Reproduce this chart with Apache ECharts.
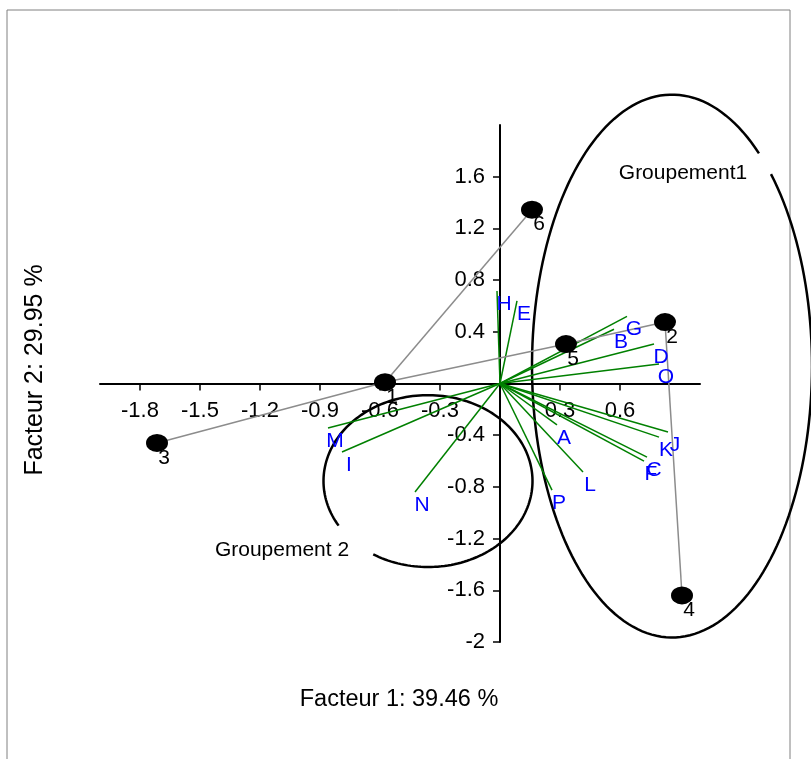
<!DOCTYPE html>
<html>
<head>
<meta charset="utf-8">
<script src="https://cdn.jsdelivr.net/npm/echarts@6/dist/echarts.min.js"></script>
<style>html,body{margin:0;padding:0;background:#fff}#c{width:811px;height:759px}</style>
</head>
<body>
<div id="c"></div>
<script>
// ---- data ----
const xTicks = [-1.8, -1.5, -1.2, -0.9, -0.6, -0.3, 0.3, 0.6];
const yTicks = [-2, -1.6, -1.2, -0.8, -0.4, 0.4, 0.8, 1.2, 1.6];
const xTitle = 'Facteur 1: 39.46 %';
const yTitle = 'Facteur 2: 29.95 %';

const varNames = ['H','E','G','B','D','O','J','K','C','F','A','L','P','M','I','N'];
const varX = [-0.015, 0.085, 0.635, 0.57, 0.77, 0.795, 0.84, 0.795, 0.735, 0.72, 0.285, 0.415, 0.26, -0.86, -0.79, -0.425];
const varY = [0.715, 0.64, 0.52, 0.42, 0.305, 0.15, -0.375, -0.415, -0.57, -0.60, -0.32, -0.685, -0.825, -0.345, -0.53, -0.84];

const obsNames = ['1','2','3','4','5','6'];
const obsX = [-0.575, 0.825, -1.715, 0.91, 0.33, 0.16];
const obsY = [0.01, 0.475, -0.46, -1.64, 0.305, 1.345];

const edges = [['3','1'], ['1','5'], ['5','2'], ['1','6'], ['2','4']];

// groups: name, center x, center y, radius x, radius y, gap start/end angle (deg)
const groupNames = ['Groupement1', 'Groupement 2'];
const groupCx = [0.86, -0.36];
const groupCy = [0.135, -0.755];
const groupRx = [0.70, 0.5225];
const groupRy = [2.10, 0.665];
const groupGap = [[-51.6, -45], [121.6, 148.8]];
const groupLabelX = [0.915, -1.09];
const groupLabelY = [1.63, -1.29];

// ---- chart ----
const FONT = 'Liberation Sans, Arial, sans-serif';
const chart = echarts.init(document.getElementById('c'));
const fmt = v => String(+(+v).toFixed(1));
const obsIdx = n => obsNames.indexOf(n);

function textSeries(names, xs, ys, dx, dy, color, size, z) {
  return {
    type: 'custom',
    coordinateSystem: 'cartesian2d',
    clip: false,
    silent: true,
    encode: { x: 0, y: 1 },
    data: names.map((n, i) => [xs[i], ys[i]]),
    renderItem: function (params, api) {
      const p = api.coord([api.value(0), api.value(1)]);
      return {
        type: 'text', x: p[0] + dx, y: p[1] + dy,
        style: { text: names[params.dataIndex], fill: color, fontSize: size, fontFamily: FONT, align: 'center', verticalAlign: 'middle' }
      };
    },
    z: z
  };
}

const option = {
  animation: false,
  backgroundColor: '#fff',
  textStyle: { fontFamily: FONT },
  grid: { left: 100, right: 111, top: 125, bottom: 117 },
  xAxis: {
    type: 'value', min: -2, max: 1, offset: -258.5,
    axisLine: { onZero: false, lineStyle: { color: '#000', width: 2 } },
    axisTick: { show: true, customValues: xTicks, length: 7, lineStyle: { color: '#000', width: 1.5 } },
    axisLabel: { customValues: xTicks, formatter: fmt, color: '#000', fontSize: 22, margin: 16, fontFamily: FONT },
    splitLine: { show: false }
  },
  yAxis: {
    type: 'value', min: -2, max: 2, offset: -400,
    axisLine: { onZero: false, lineStyle: { color: '#000', width: 2 } },
    axisTick: { show: true, customValues: yTicks, length: 7, lineStyle: { color: '#000', width: 1.5 } },
    axisLabel: { customValues: yTicks, formatter: fmt, color: '#000', fontSize: 22, margin: 15, fontFamily: FONT },
    splitLine: { show: false }
  },
  graphic: [
    { type: 'rect', shape: { x: 7, y: 10, width: 783, height: 770 }, style: { fill: null, stroke: '#808080', lineWidth: 1 }, z: -10 },
    { type: 'text', x: 399, y: 700, style: { text: xTitle, fontSize: 23.5, fill: '#000', align: 'center', verticalAlign: 'middle', fontFamily: FONT } },
    { type: 'text', x: 35, y: 370, rotation: Math.PI / 2, style: { text: yTitle, fontSize: 25, fill: '#000', align: 'center', verticalAlign: 'middle', fontFamily: FONT } }
  ],
  series: [
    {
      type: 'custom',
      coordinateSystem: 'cartesian2d',
      clip: false,
      silent: true,
      encode: { x: 0, y: 1 },
      data: groupNames.map((n, i) => [groupCx[i], groupCy[i], groupRx[i], groupRy[i], groupGap[i][0], groupGap[i][1]]),
      renderItem: function (params, api) {
        const c = api.coord([api.value(0), api.value(1)]);
        const s = api.size([api.value(2), api.value(3)]);
        const g0 = api.value(4), g1 = api.value(5);
        const span = 360 - (g1 - g0);
        const pts = [];
        const N = 180;
        for (let k = 0; k <= N; k++) {
          const t = (g1 + span * k / N) * Math.PI / 180;
          pts.push([c[0] + s[0] * Math.cos(t), c[1] + s[1] * Math.sin(t)]);
        }
        return { type: 'polyline', shape: { points: pts }, style: { stroke: '#000', lineWidth: 2.5, fill: null } };
      },
      z: 2
    },
    textSeries(groupNames, groupLabelX, groupLabelY, 0, 0, '#000', 21, 3),
    {
      type: 'lines',
      coordinateSystem: 'cartesian2d',
      silent: true,
      data: varNames.map((n, i) => ({ coords: [[0, 0], [varX[i], varY[i]]] })),
      lineStyle: { color: '#008000', width: 1.5, opacity: 1 },
      z: 4
    },
    {
      type: 'lines',
      coordinateSystem: 'cartesian2d',
      silent: true,
      data: edges.map(e => ({ coords: [[obsX[obsIdx(e[0])], obsY[obsIdx(e[0])]], [obsX[obsIdx(e[1])], obsY[obsIdx(e[1])]]] })),
      lineStyle: { color: '#8c8c8c', width: 1.5, opacity: 1 },
      z: 4
    },
    {
      type: 'scatter',
      symbol: 'circle',
      symbolSize: [22, 18],
      silent: true,
      itemStyle: { color: '#000', opacity: 1 },
      data: obsNames.map((n, i) => ({ name: n, value: [obsX[i], obsY[i]] })),
      z: 5
    },
    textSeries(obsNames, obsX, obsY, 7, 15, '#000', 21, 6),
    textSeries(varNames, varX, varY, 7, 13, '#0000ff', 21, 7)
  ]
};
chart.setOption(option);
</script>
</body>
</html>
